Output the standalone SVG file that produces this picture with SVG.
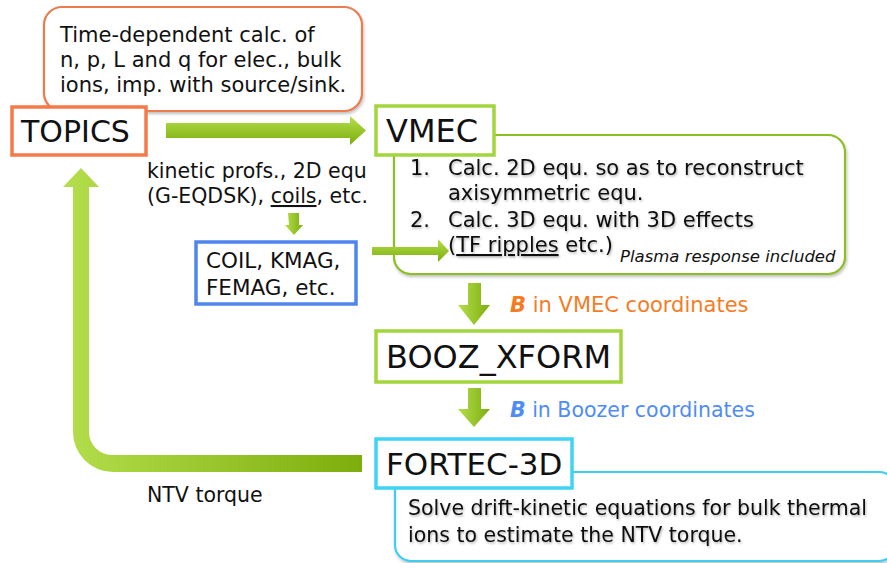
<svg xmlns="http://www.w3.org/2000/svg" width="887" height="563" viewBox="0 0 887 563">
<defs>
<linearGradient id="gh" x1="0" y1="0" x2="0" y2="1"><stop offset="0" stop-color="#b4de4c"/><stop offset="1" stop-color="#7cae0c"/></linearGradient>
<linearGradient id="gv" x1="0" y1="0" x2="1" y2="0"><stop offset="0" stop-color="#b4de4c"/><stop offset="1" stop-color="#7cae0c"/></linearGradient>
<filter id="sh" x="-5%" y="-5%" width="110%" height="120%"><feDropShadow dx="1" dy="2" stdDeviation="1.5" flood-color="#000" flood-opacity="0.25"/></filter>
<filter id="tsh" x="-5%" y="-20%" width="110%" height="150%"><feDropShadow dx="1" dy="1.5" stdDeviation="1.2" flood-color="#000" flood-opacity="0.3"/></filter>
</defs>
<style>
text{font-family:"DejaVu Sans","Liberation Sans",sans-serif;fill:#111}
.big{font-size:31px}
.mid{font-size:20.5px}
.top{font-size:21px}
.box{fill:#fff;stroke-width:3.5}
.desc{fill:#fff;stroke-width:2.2}
</style>
<rect width="887" height="563" fill="#fff"/>

<g id="topics-desc">
<rect x="44" y="7" width="318" height="104" rx="18" class="desc" stroke="#ea7b4f" stroke-width="2.5" filter="url(#sh)"/>
<text class="top" x="60" y="42">Time-dependent calc. of</text>
<text class="top" x="60" y="67">n, p, L and q for elec., bulk</text>
<text class="top" x="60" y="92">ions, imp. with source/sink.</text>
</g>

<g id="topics">
<rect x="12" y="107" width="134" height="48" class="box" stroke="#f47b48"/>
<text class="big" x="21" y="142" style="font-size:30px">TOPICS</text>
</g>

<g id="vmec-desc">
<rect x="394" y="135" width="451" height="139" rx="17" class="desc" stroke="#8cbf26" filter="url(#sh)"/>
<g filter="url(#tsh)" style="font-size:21px">
<text class="top" x="410" y="175">1.</text>
<text class="top" x="448" y="175">Calc. 2D equ. so as to reconstruct</text>
<text class="top" x="448" y="200">axisymmetric equ.</text>
<text class="top" x="410" y="227">2.</text>
<text class="top" x="448" y="227">Calc. 3D equ. with 3D effects</text>
<text class="top" x="448" y="252">(<tspan text-decoration="underline">TF ripples</tspan> etc.)</text>
</g>
<text x="620" y="262" style="font-size:16.5px;font-style:italic">Plasma response included</text>
</g>

<g id="vmec">
<rect x="376" y="106" width="118" height="49" class="box" stroke="#a2d63c"/>
<text class="big" x="386" y="142" style="font-size:32px">VMEC</text>
</g>

<g id="coil">
<rect x="196" y="242" width="160" height="62" class="box" stroke="#4f86ee"/>
<text x="206" y="268" style="font-size:21.5px">COIL, KMAG,</text>
<text x="206" y="295" style="font-size:21.5px">FEMAG, etc.</text>
</g>

<g id="booz">
<rect x="376" y="331" width="245" height="51" class="box" stroke="#a2d63c"/>
<text class="big" x="386" y="368" style="font-size:32px">BOOZ_XFORM</text>
</g>

<g id="fortec-desc">
<rect x="395" y="472" width="500" height="89" rx="16" class="desc" stroke="#3fcdf2" filter="url(#sh)"/>
<g filter="url(#tsh)">
<text class="mid" x="408" y="515">Solve drift-kinetic equations for bulk thermal</text>
<text class="mid" x="408" y="542">ions to estimate the NTV torque.</text>
</g>
</g>

<g id="fortec">
<rect x="376" y="439" width="196" height="49" class="box" stroke="#3fd3f6"/>
<text class="big" x="386" y="475">FORTEC-3D</text>
</g>

<g id="connectors">
<path d="M166 123 H350 V116 L366 130.5 L350 145 V138 H166 Z" fill="url(#gh)"/>
<path d="M288 213 H299 V225 H303 L294 235 L285 225 H289 Z" fill="url(#gv)"/>
<path d="M372 247 H438 V239 L449 251 L438 262 V255 H372 Z" fill="url(#gh)"/>
<path d="M468 283 H481 V305 H490 L474 325 L458 305 H468 Z" fill="url(#gv)"/>
<path d="M468 388 H481 V409 H490 L474 427 L458 409 H468 Z" fill="url(#gv)"/>
<path d="M362 455 V472 H113 A40 40 0 0 1 73 432 V187 H63 L81 168 L99 187 H89 V432 A23 23 0 0 0 112 455 Z" fill="url(#gv)"/>
</g>

<g id="labels">
<text class="mid" x="147" y="178">kinetic profs., 2D equ</text>
<text class="mid" x="147" y="203">(G-EQDSK), <tspan text-decoration="underline">coils</tspan>, etc.</text>
<text x="510" y="312" style="font-size:21px;fill:#f57c24"><tspan style="font-weight:bold;font-style:italic">B</tspan> in VMEC coordinates</text>
<text x="510" y="417" style="font-size:20.5px;fill:#4f8df5"><tspan style="font-weight:bold;font-style:italic">B</tspan> in Boozer coordinates</text>
<text class="mid" x="147" y="502">NTV torque</text>
</g>
</svg>
